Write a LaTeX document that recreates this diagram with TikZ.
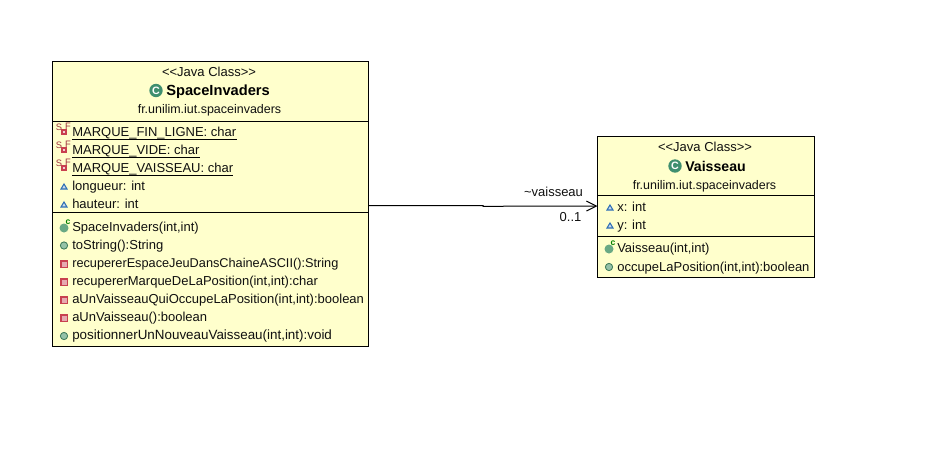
\documentclass[tikz,border=0pt]{standalone}
\usepackage{fontspec}
\setmainfont{Liberation Sans}
\usetikzlibrary{arrows.meta}
\definecolor{classfill}{HTML}{FFFFCC}
\definecolor{pubgreen}{HTML}{4F9A6E}
\definecolor{privred}{HTML}{C8404F}
\definecolor{pkgblue}{HTML}{2F6FB5}
\definecolor{classgreen}{HTML}{3F8F6F}
\definecolor{txt}{HTML}{101010}
\tikzset{
  x=0.75pt,y=-0.75pt,
  box/.style={draw=black,fill=classfill,line width=0.75pt,minimum width=0pt},
  sep/.style={draw=black,line width=0.75pt},
  lbl/.style={inner sep=0pt,font=\fontsize{9.75pt}{11pt}\selectfont,text=txt,text height=8pt,text depth=1.5pt},
  memb/.style={lbl,anchor=west},
  ctr/.style={lbl,anchor=center},
  pkgname/.style={lbl,anchor=center,font=\fontsize{9.35pt}{11pt}\selectfont},
  ttl/.style={inner sep=0pt,font=\fontsize{11pt}{12pt}\selectfont\bfseries,text=black,anchor=west,text height=8pt,text depth=0pt},
  ul/.style={draw=black,line width=0.75pt},
  conn/.style={draw=black,line width=0.75pt},
  pub/.pic={\fill[pubgreen!60!white] (0,0) circle (4); \draw[pubgreen!80!black,line width=0.6pt] (0,0) circle (3.6);},
  priv/.pic={\fill[privred!45!white] (-3.5,-3.5) rectangle (3.5,3.5); \draw[privred,line width=0.9pt] (-3.1,-3.1) rectangle (3.1,3.1);},
  pkg/.pic={\fill[pkgblue!25!white] (-3,2.5) -- (0,-2.5) -- (3,2.5) -- cycle; \draw[pkgblue,line width=0.8pt] (-3,2.5) -- (0,-2.5) -- (3,2.5) -- cycle;},
  sfpriv/.pic={\node[inner sep=0pt,font=\fontsize{7pt}{7pt}\selectfont,text=privred!80!black] at (-1,-5) {S};
    \node[inner sep=0pt,font=\fontsize{7pt}{7pt}\selectfont,text=privred!80!black] at (8,-6) {F};
    \draw[privred,fill=privred!25!white,line width=0.9pt] (2,-2) rectangle (6,2);},
  ctor/.pic={\fill[pubgreen!85!white] (0,0) circle (4.5);
    \node[inner sep=0pt,font=\fontsize{6.5pt}{6.5pt}\selectfont\bfseries,text=green!50!black] at (4,-6) {c};},
  cls/.pic={\fill[classgreen] (0,0) circle (6.7);
    \node[inner sep=0pt,font=\fontsize{8pt}{8pt}\selectfont\bfseries,text=white] at (0,0) {C};},
}
\begin{document}
\begin{tikzpicture}
\useasboundingbox (0,0) rectangle (925,475);
% SpaceInvaders box
\path[box] (52.5,61.5) rectangle (368.5,346.5);
\coordinate (siE) at (368.5,205.5);
\draw[sep] (52.5,121.5) -- (368.5,121.5);
\draw[sep] (52.5,212.5) -- (368.5,212.5);
\node[ctr] (s1) at (209,72) {<{}<Java Class>{}>};
\pic at (156,90.5) {cls};
\node[ttl] (s2) at (166,90.5) {SpaceInvaders};
\node[pkgname] (s3) at (209.5,109.5) {fr.unilim.iut.spaceinvaders};
\pic at (60,132) {sfpriv};
\pic at (60,150) {sfpriv};
\pic at (60,168) {sfpriv};
\node[memb] (a1) at (72,132) {MARQUE\_FIN\_LIGNE: char};
\node[memb] (a2) at (72,150) {MARQUE\_VIDE: char};
\node[memb] (a3) at (72,168) {MARQUE\_VAISSEAU: char};
\draw[ul] ([yshift=-0.5pt]a1.south west) -- ([yshift=-0.5pt]a1.south east);
\draw[ul] ([yshift=-0.5pt]a2.south west) -- ([yshift=-0.5pt]a2.south east);
\draw[ul] ([yshift=-0.5pt]a3.south west) -- ([yshift=-0.5pt]a3.south east);
\pic at (64,186.5) {pkg};
\pic at (64,204.5) {pkg};
\node[memb] (a4) at (72,186) {longueur: int};
\node[memb] (a5) at (72,204) {hauteur: int};
\pic at (64,228) {ctor};
\pic at (64,245.5) {pub};
\pic at (64,264) {priv};
\pic at (64,282) {priv};
\pic at (64,300) {priv};
\pic at (64,318) {priv};
\pic at (64,336) {pub};
\node[memb] (m1) at (72,227.5) {SpaceInvaders(int,int)};
\node[memb] (m2) at (72,245.5) {toString():String};
\node[memb,font=\fontsize{9.55pt}{11pt}\selectfont] (m3) at (72,263.5) {recupererEspaceJeuDansChaineASCII():String};
\node[memb] (m4) at (72,281.5) {recupererMarqueDeLaPosition(int,int):char};
\node[memb] (m5) at (72,299.5) {aUnVaisseauQuiOccupeLaPosition(int,int):boolean};
\node[memb] (m6) at (72,317.5) {aUnVaisseau():boolean};
\node[memb,font=\fontsize{10.05pt}{11pt}\selectfont] (m7) at (72,335.5) {positionnerUnNouveauVaisseau(int,int):void};
% Vaisseau box
\path[box] (597.5,136.5) rectangle (814.5,277.5);
\coordinate (vaW) at (597.5,206);
\draw[sep] (597.5,195.5) -- (814.5,195.5);
\draw[sep] (597.5,236.5) -- (814.5,236.5);
\node[ctr] (v1) at (705,147) {<{}<Java Class>{}>};
\pic at (675,166) {cls};
\node[ttl,font=\fontsize{10.6pt}{12pt}\selectfont\bfseries] (v2) at (685,166) {Vaisseau};
\node[pkgname] (v3) at (704.5,185) {fr.unilim.iut.spaceinvaders};
\pic at (610,207.5) {pkg};
\pic at (610,225.5) {pkg};
\node[memb] (b1) at (617,207) {x: int};
\node[memb] (b2) at (617,225) {y: int};
\pic at (609,249) {ctor};
\pic at (609,267) {pub};
\node[memb] (n1) at (617,248.5) {Vaisseau(int,int)};
\node[memb] (n2) at (617,267) {occupeLaPosition(int,int):boolean};
% association
\coordinate (jog) at (483,205.5);
\coordinate (jog2) at (483,206.3);
\draw[conn,-{Straight Barb[length=7.5pt,width=7.5pt,line width=0.75pt]}] (siE) -- (jog) -- (jog2) -- (vaW);
\node[ctr] (role) at (553.5,192) {\char`\~vaisseau};
\node[ctr] (mult) at (570.5,217.5) {0..1};
\end{tikzpicture}
\end{document}
